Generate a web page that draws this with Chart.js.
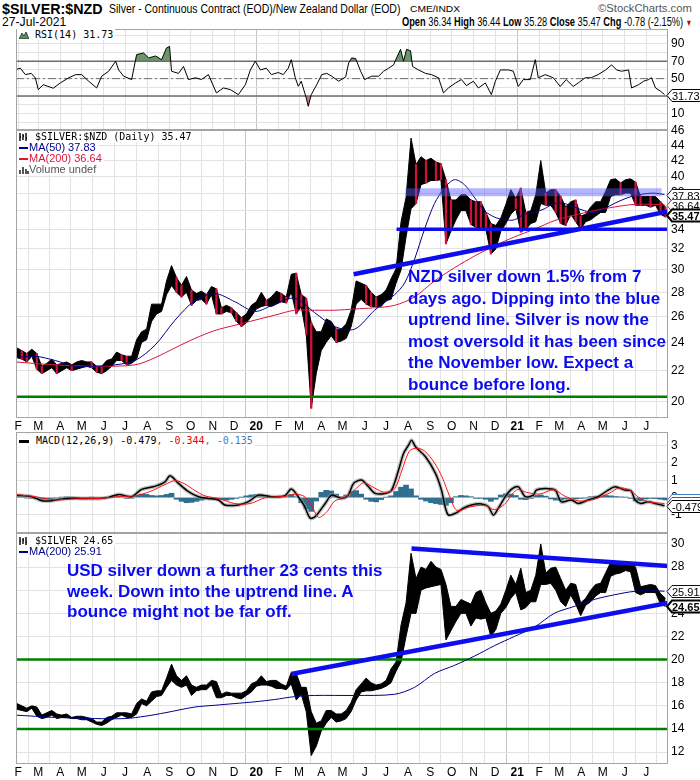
<!DOCTYPE html>
<html>
<head>
<meta charset="utf-8">
<title>$SILVER:$NZD</title>
<script src="https://cdn.jsdelivr.net/npm/chart.js@4.4.1/dist/chart.umd.min.js"></script>
<style>
  body { margin: 0; background: #fff; font-family: 'Liberation Sans', Arial, sans-serif; }
  #page { position: relative; width: 700px; height: 780px; overflow: hidden; }
  canvas { position: absolute; left: 0; }
  .hdr { position: absolute; white-space: nowrap; transform-origin: 0 0; font-family: 'Liberation Sans', Arial, sans-serif; }
  .legend { position: absolute; left: 17px; }
  .legend div { display: table; background: #fff; padding: 0 2px; line-height: 11px; height: 11px; white-space: nowrap; }
  .mono { font: 10px 'DejaVu Sans Mono', monospace; }
  .ma { font: 11px 'Liberation Sans', Arial, sans-serif; }
  .sw { display: inline-block; width: 9px; height: 2px; vertical-align: middle; margin-right: 1px; }
  .note { position: absolute; color: #0b0bf0; font: bold 17px 'Liberation Sans', Arial, sans-serif; white-space: nowrap; }
</style>
</head>
<body>
<div id="page">
  <div class="hdr" data-fit="101" style="left:2px;top:0;font-size:15px;font-weight:bold">$SILVER:$NZD</div>
  <div class="hdr" data-fit="291" style="left:109px;top:2px;font-size:12px">Silver - Continuous Contract (EOD)/New Zealand Dollar (EOD)</div>
  <div class="hdr" data-fit="50" style="left:410px;top:4px;font-size:9px">CME/INDX</div>
  <div class="hdr" data-fit="94" style="left:598px;top:2px;font-size:11px;color:#555">©StockCharts.com</div>
  <div class="hdr" data-fit="64" style="left:2px;top:15px;font-size:12px">27-Jul-2021</div>
  <div class="hdr" data-fit="290" style="left:402px;top:14px;font-size:13px"><b>Open</b> 36.34 <b>High</b> 36.44 <b>Low</b> 35.28 <b>Close</b> 35.47 <b>Chg</b> -0.78 (-2.15%) <span style="color:#c00;font-size:9px">&#9660;</span></div>

  <canvas id="rsiChart" width="700" height="101" style="top:29px"></canvas>
  <canvas id="nzdChart" width="700" height="310" style="top:122px"></canvas>
  <canvas id="macdChart" width="700" height="101" style="top:432px"></canvas>
  <canvas id="usdChart" width="700" height="245" style="top:533px"></canvas>

  <div class="legend" style="top:29px">
    <div class="mono"><svg width="10" height="8" style="vertical-align:-1px"><path d="M0 8 L3 2 L5 5 L7 1 L10 8 Z" fill="#5f8f5f" stroke="#222" stroke-width="0.8"/></svg> RSI(14) 31.73</div>
  </div>
  <div class="legend" style="top:131px">
    <div class="mono"><svg width="10" height="8" style="vertical-align:-1px"><path d="M1 0V8M4 1V7M7 0V8M2 4H1M4 3H5M7 5H8" stroke="#000" stroke-width="1.4"/></svg> $SILVER:$NZD (Daily) 35.47</div>
    <div class="ma" style="color:#00008b"><span class="sw" style="background:#00008b"></span>MA(50) 37.83</div>
    <div class="ma" style="color:#dc143c"><span class="sw" style="background:#dc143c"></span>MA(200) 36.64</div>
    <div class="ma" style="color:#555"><svg width="10" height="8" style="vertical-align:-1px"><path d="M1 8V4M4 8V1M7 8V3M9 8V5" stroke="#555" stroke-width="2"/></svg>Volume undef</div>
  </div>
  <div class="legend" style="top:435px">
    <div class="mono"><span class="sw" style="background:#000;width:10px;height:3px"></span> MACD(12,26,9) -0.479<span style="color:#e00">, -0.344</span><span style="color:#3d7fc0">, -0.135</span></div>
  </div>
  <div class="legend" style="top:535px">
    <div class="mono"><svg width="10" height="8" style="vertical-align:-1px"><path d="M1 0V8M4 1V7M7 0V8M2 4H1M4 3H5M7 5H8" stroke="#000" stroke-width="1.4"/></svg> $SILVER 24.65</div>
    <div class="ma" style="color:#00008b"><span class="sw" style="background:#00008b"></span>MA(200) 25.91</div>
  </div>

  <div class="note" style="left:408px;top:266px;line-height:21.5px">NZD silver down 1.5% from 7<br>days ago. Dipping into the blue<br>uptrend line. Silver is now the<br>most oversold it has been since<br>the November low. Expect a<br>bounce before long.</div>
  <div class="note" style="left:67px;top:561px;line-height:20.5px">USD silver down a further 23 cents this<br>week. Down into the uptrend line. A<br>bounce might not be far off.</div>
</div>

<script>
// ---- values ----
const monthLabels = ['F','M','A','M','J','J','A','S','O','N','D','20','F','M','A','M','J','J','A','S','O','N','D','21','F','M','A','M','J','J'];

// weekly low/high, one entry per week starting Mon 28-Jan-2019
const nzdLow = [22.9,22.8,22.6,23.0,22.1, 21.8,22.0,22.2,21.8,22.0, 22.2,22.0,22.1,22.2,22.3, 22.2,21.9,21.8,22.0,22.3,
  22.7,22.7,22.4,22.5,22.8, 24.0,24.2,25.6,26.2,26.4, 27.8,28.6,28.0,27.6,28.0, 26.9,27.3,27.4,27.0,27.8,
  26.2,26.2,26.4,26.3,25.6, 25.2,25.5,26.0,26.6,26.8, 26.9,26.8,27.0,27.2,27.1, 28.0,26.2,26.8,24.6,19.6,
  21.8,23.4,24.0,24.5,24.0, 24.1,24.3,25.2,27.0,27.4, 27.0,26.8,26.8,26.8,27.3, 27.4,28.8,30.0,33.2,36.2,
  36.8,39.0,39.2,39.5,39.5, 39.6,32.5,33.8,35.0,36.0, 36.0,34.5,34.2,34.0,34.0, 31.5,32.0,33.8,34.6,35.6,
  36.2,33.7,34.0,34.6,34.8, 36.8,36.6,36.6,35.8,34.6, 34.4,35.6,34.8,34.0,34.8, 35.0,35.4,35.8,35.8,37.6,
  37.8,37.8,38.0,38.0,36.6, 36.6,36.6,36.4,36.6,35.6, 35.3];
const nzdHigh = [23.6,23.4,23.2,23.5,23.2, 22.3,22.5,22.8,22.4,22.5, 22.6,22.4,22.6,22.7,22.6, 22.6,22.3,22.3,22.7,22.8,
  23.3,23.1,23.0,23.0,24.2, 24.8,25.0,27.0,27.0,27.0, 29.0,30.4,29.3,28.6,29.4, 28.2,27.9,28.1,27.8,28.5,
  28.3,26.7,26.9,26.7,26.3, 25.9,26.2,26.9,27.2,28.0, 27.3,27.6,28.1,27.9,27.6, 29.6,29.7,27.8,27.5,25.5,
  24.8,24.8,25.8,25.6,25.0, 25.0,25.4,26.5,29.0,28.8, 28.6,28.0,27.6,27.8,28.2, 29.2,30.1,34.8,37.5,45.0,
  41.5,42.5,42.0,42.3,41.8, 41.6,39.6,37.2,37.2,37.8, 37.8,37.2,37.0,37.0,35.8, 34.6,34.4,35.2,36.7,38.4,
  37.4,38.6,35.8,36.0,37.8, 42.0,38.0,38.4,38.4,37.6, 36.4,37.0,37.2,35.4,35.6, 36.4,37.0,37.0,38.2,39.6,
  39.7,39.2,39.6,39.7,39.3, 37.6,37.6,37.6,37.6,37.0, 36.4];
const nzdClose = 35.47;

const ma50NzdWeeks = [0,4,8,12,16,20,24,28,32,36, 40,44,48,52,56,60,64,68,72,76, 78,80,82,84,86,88,90,92,94,96,
  98,100,102,104,106,108,110,112,114,116, 118,120,122,124,126,128,130.1];
const ma50Nzd = [22.9,23.0,22.7,22.3,22.3,22.4,22.7,23.8,25.7,27.3, 27.9,27.2,26.4,27.0,27.5,26.3,25.2,25.0,26.5,27.8,
  28.8,31.0,34.0,36.8,38.6,39.6,39.0,37.5,36.0,35.3, 35.0,35.0,35.6,35.8,36.2,36.8,36.8,36.4,36.0,35.8,
  36.2,36.8,37.3,37.7,37.9,38.0,37.83];
const ma200NzdWeeks = [0,8,16,24,28,32,36,40,44,48, 52,56,60,64,68,72,76,80,84,88, 92,96,100,104,108,112,116,120,124,128, 130.1];
const ma200Nzd = [22.6,22.4,22.3,22.4,22.9,23.6,24.3,24.9,25.3,25.7, 26.1,26.5,26.5,26.5,26.6,26.7,26.9,27.6,29.0,30.2,
  31.3,32.3,33.2,34.0,34.9,35.5,36.0,36.4,36.7,36.7, 36.64];

const nzdTrendWeeks = [67.8, 130.8];
const nzdTrendValues = [29.6, 35.9];
const nzdFloorWeeks = [76.4, 130.8];
const nzdFloor = 34;
const nzdBandWeeks = [78.2, 129.5];
const nzdBand = 38.1;
const nzdSupport = 20.3;

const usdLow = [15.7,15.6,15.5,15.8,15.1, 14.9,15.0,15.2,14.9,15.0, 15.0,14.9,14.9,14.8,14.8, 14.6,14.4,14.3,14.5,14.8,
  15.0,15.2,15.0,15.0,15.3, 16.2,16.0,16.4,16.8,16.9, 17.6,18.2,17.8,17.6,17.8, 16.9,17.3,17.4,17.4,17.8,
  16.7,16.7,16.9,16.9,16.7, 16.6,16.9,17.2,17.7,17.8, 17.8,17.7,17.5,17.5,17.4, 17.9,16.5,17.0,15.5,11.7,
  12.5,13.8,14.5,15.0,14.6, 14.7,14.9,15.5,16.5,17.2, 17.3,17.3,17.4,17.5,17.7, 18.0,19.0,19.8,22.0,24.0,
  24.0,26.0,26.2,26.3,26.4, 26.5,21.7,22.5,23.3,24.0, 24.0,22.9,23.6,23.5,23.6, 22.0,22.6,24.0,24.5,25.3,
  25.8,24.3,24.5,25.0,25.0, 26.5,26.5,26.6,26.0,25.0, 24.6,25.6,24.8,23.8,24.7, 25.0,25.5,25.8,25.8,27.2,
  27.4,27.5,27.7,27.6,25.8, 25.6,25.8,25.8,25.8,24.8, 24.6];
const usdHigh = [16.2,16.0,15.8,16.0,15.9, 15.2,15.4,15.6,15.3,15.2, 15.3,15.0,15.1,15.1,15.0, 14.9,14.6,14.6,15.0,15.1,
  15.4,15.4,15.4,15.3,16.2, 16.6,16.4,17.2,17.3,17.3, 18.4,19.6,18.6,18.2,18.6, 17.8,17.6,17.8,17.8,18.2,
  18.1,17.0,17.2,17.1,17.1, 17.1,17.3,17.9,18.1,18.6, 18.1,18.2,18.2,17.9,17.7, 18.9,18.8,17.6,17.6,15.5,
  14.5,14.7,15.6,15.6,15.3, 15.3,15.6,16.3,17.4,17.9, 18.4,18.0,17.8,17.9,18.2, 19.2,19.8,23.0,24.9,29.2,
  27.0,28.0,27.8,28.5,28.0, 27.8,26.5,24.6,24.6,25.2, 25.0,24.8,25.8,26.0,24.9, 24.0,24.2,24.8,26.0,27.3,
  26.5,27.9,25.8,26.0,27.3, 30.0,27.5,27.9,28.0,27.0, 26.0,26.6,26.5,24.9,25.3, 26.0,26.5,26.6,27.5,28.4,
  28.5,28.3,28.3,28.4,28.0, 26.3,26.4,26.5,26.4,25.7, 25.3];
const usdClose = 24.65;

const ma200UsdWeeks = [0,8,16,22,26,30,36,40,44,48, 52,56,60,68,76,80,84,88,92,96, 100,104,108,112,116,120,124,128,130.1];
const ma200Usd = [15.2,15.0,14.9,14.9,15.1,15.4,15.9,16.05,16.2,16.35, 16.55,16.8,16.9,16.9,17.0,17.6,18.8,19.5,20.3,21.2,
  22.0,22.8,24.0,24.6,25.2,25.6,25.9,25.95,25.91];

const usdUpperWeeks = [79.4, 130.8];
const usdUpperValues = [29.6, 28.1];
const usdLowerWeeks = [55.3, 130.8];
const usdLowerValues = [18.75, 24.9];
const usdSupports = [20, 14];

const rsiWeeks = [0.0,1.0,2.0,3.2,4.0,4.6,5.6,7.6,9.0,10.7, 12.1,13.3,14.7,16.3,17.3,18.7,20.1,20.7,21.7,23.3,
  24.3,25.7,26.7,28.1,29.3,30.3,30.9,31.3,32.7,33.7, 34.7,36.1,37.3,38.7,40.3,41.7,43.1,44.7,46.1,47.1,
  48.1,49.1,50.3,51.3,52.7,53.7,54.7,55.3,56.1,56.7, 57.3,58.3,58.7,59.3,60.4,61.4,62.4,63.4,64.8,66.2,
  66.8,67.4,68.2,69.2,70.0,71.4,72.8,73.8,74.8,75.8, 76.4,77.2,77.8,78.4,79.2,79.6,80.8,82.2,83.4,84.8,
  85.8,86.8,88.2,89.4,90.4,91.8,92.8,94.2,95.4,96.2, 97.2,98.8,99.8,100.8,101.8,103.2,104.2,104.8,106.2,107.8,
  109.2,110.4,111.8,112.8,114.2,115.4,116.8,118.3,119.5,120.5, 121.5,122.9,123.5,124.9,125.9,126.9,127.5,128.3,129.3,130.1];
const rsiValues = [60.3,62,54.6,56,50.8,37.4,43,39,45,51, 54.6,54.6,47,39.3,52.8,58.5,70,60,52.8,48.9,
  77.6,79.5,73.8,76,71.8,85.3,87,58.5,56,64, 48.9,51,49,54.6,33.6,39.3,37.4,31.6,43,60,
  70,60,62,54.6,57,54.6,62,71.8,51,41.2, 47,27.8,18.2,31.6,43,54.6,56,52.8,47,52,
  68,73.8,73,58.5,48.9,52.8,52.8,58.5,62,65.8, 73.8,83.6,70,83.6,82,64,60,56,54.6,51,
  33.6,39.3,45,48.9,42,47,39.3,45,31.6,47, 60,60,58.5,41,48.9,48.9,71.8,51,54.6,51,
  41,48.9,41,45,51,51,54.6,60,65.8,60, 58.5,60,39.3,43,47,48.9,51,39.3,35.6,31.73];
const rsiLevels = [30, 50, 70];

const macdWeeks = [0,3.3,5.3,7.3,10,13.3,16.7,18.7,20.7,23.3, 25.3,28.1,30,31,32.7,34.7,36.7,38.7,40.7,42,
  44.7,46.7,48.7,51.3,54,55.3,56.7,58,59.1,60.1, 62.1,63.4,65.4,66.7,67.8,69.4,70.8,72.1,74.1,75.4,
  76.8,77.8,78.8,79.4,80.2,82.2,84.2,85.4,86.2,86.8, 88.2,89.8,91.4,93.4,94.8,95.8,96.8,98.2,99.4,100.8,
  102.2,103.8,104.4,106.2,108.2,109.4,111.4,112.8,114.8,116.8, 118.8,120.2,122.2,123.4,124.2,125.4,126.8,128.2,130.1];
const macdLine = [0.14,0.05,-0.18,-0.18,-0.05,-0.05,-0.05,0.01,0.18,0.05, 0.47,0.66,0.91,1.26,0.82,0.34,0.05,-0.05,-0.14,-0.43,
  -0.43,-0.24,0.14,0.05,0.10,0.49,0.05,-0.53,-1.19,-1.10, -0.34,0.14,-0.05,0.14,0.82,1.01,0.62,0.24,0.24,0.43,
  1.59,2.55,3.03,3.32,2.94,2.36,1.40,0.43,-0.61,-1.01, -0.91,-0.61,-0.43,-0.37,-0.53,-1.01,-0.61,0.05,0.47,0.62,
  0.05,0.14,0.43,0.53,0.43,-0.24,-0.14,-0.34,-0.14,0.05, 0.43,0.62,0.43,0.39,-0.14,-0.34,-0.24,-0.34,-0.479];
const signalWeeks = [0,4,8,12,17,21,24,27,30,32, 34,36,38,41,44,47,50,54,56,58, 59.5,60.8,62.5,64,66,68,69.8,72,74,76,
  77.5,79,80.5,82,84,85.5,87,88.5,91,94, 96,98,100.5,102.5,105,108,110,113,116,119, 121,123,125,127,130.1];
const signalLine = [0.18,0.05,-0.14,-0.08,-0.05,0.06,0.1,0.35,0.75,0.98, 0.78,0.4,0.1,-0.08,-0.35,-0.35,-0.02,0.07,0.2,0.05,
  -0.55,-1.15,-0.8,-0.2,0.0,0.45,0.85,0.55,0.3,0.5, 1.6,2.7,2.85,2.7,2.0,1.2,0.1,-0.75,-0.55,-0.45,
  -0.7,-0.4,0.45,0.3,0.2,0.45,0.1,-0.2,-0.1,0.25, 0.55,0.45,0.0,-0.25,-0.344];
const macdHist = [0.05,0.04,-0.02,-0.05,-0.08, -0.12,-0.10,-0.06,-0.02,0.02, 0.04,0.02,0.0,-0.02,0.0, 0.01,0.0,-0.02,0.02,0.05,
  0.1,0.06,-0.05,-0.04,0.12, 0.2,0.18,0.12,0.1,0.12, 0.18,0.25,-0.1,-0.22,-0.3, -0.28,-0.22,-0.15,-0.1,-0.06,
  -0.08,-0.12,-0.15,-0.1,-0.05, 0.02,0.1,0.15,0.18,0.14, 0.04,0.0,0.02,0.03,0.05, 0.18,0.05,-0.3,-0.65,-0.8,
  -0.2,0.3,0.42,0.38,0.2, 0.05,0.15,0.35,0.4,0.2, -0.1,-0.22,-0.25,-0.12,0.02, 0.1,0.35,0.6,0.72,0.5,
  0.1,-0.1,-0.2,-0.3,-0.35, -0.4,-0.45,-0.3,0.05,0.12, 0.1,0.05,-0.05,-0.05,-0.1, -0.22,-0.1,0.15,0.22,0.2,
  0.12,-0.1,-0.12,-0.05,0.12, 0.15,0.08,-0.08,-0.15,-0.15, -0.08,-0.05,-0.08,-0.05,-0.02, 0.05,0.08,0.1,0.12,0.1,
  0.06,0.04,0.02,-0.05,-0.2, -0.18,-0.08,-0.05,-0.06,-0.1, -0.135];

// squeeze header text into the narrow widths of the original
document.querySelectorAll('[data-fit]').forEach(el => {
  el.style.transform = 'scaleX(' + (+el.dataset.fit / el.offsetWidth) + ')';
});

// ---- helpers ----
const X_MIN = 0.13, X_MAX = 130.8;
const DAY0 = Date.UTC(2019, 0, 28);
const monthTicks = monthLabels.map((_, k) => (Date.UTC(2019, 1 + k, 1) - DAY0) / (7 * 864e5));
const weekX = i => i + 0.3;
const pts = (xs, ys) => ys.map((y, i) => ({ x: xs[i], y }));
const weekly = ys => ys.map((y, i) => ({ x: weekX(i), y }));
const ranges = (lo, hi) => lo.map((l, i) => ({ x: weekX(i), y: [l, hi[i]] }));
const flat = (xs, v) => [{ x: xs[0], y: v }, { x: xs[1], y: v }];
const FONT = "'Liberation Sans', Arial, sans-serif";

Chart.defaults.font.family = FONT;

function xAxis(showLabels) {
  return {
    type: 'linear', min: X_MIN, max: X_MAX, offset: false,
    afterBuildTicks: s => { s.ticks = monthTicks.map(v => ({ value: v })); },
    afterFit: s => { s.height = showLabels ? 14 : 0; },
    grid: { color: c => (c.index === 11 || c.index === 23) ? '#c4c4c4' : '#e2e2e2', drawTicks: false },
    border: { display: false },
    ticks: {
      display: showLabels, padding: 1, autoSkip: false, maxRotation: 0, color: '#000',
      callback: (v, i) => monthLabels[i],
      font: c => ({ family: FONT, size: 12, weight: (monthLabels[c.index] || '').length > 1 ? 'bold' : 'normal' })
    }
  };
}

function yAxis(min, max, ticks, extra, label) {
  return Object.assign({
    position: 'right', min, max,
    afterBuildTicks: s => { s.ticks = ticks.map(v => ({ value: v })); },
    afterFit: s => { s.width = 32; s.paddingTop = 0; s.paddingBottom = 0; },
    grid: { color: '#e2e2e2', drawTicks: false },
    border: { display: false },
    ticks: { padding: 3, autoSkip: false, color: '#000', font: { family: FONT, size: 12 }, callback: label || (v => v) }
  }, extra);
}

const frame = {
  id: 'frame',
  afterDatasetsDraw(chart) {
    const a = chart.chartArea, ctx = chart.ctx;
    ctx.save();
    ctx.strokeStyle = '#a4a4a4';
    ctx.lineWidth = 1;
    ctx.strokeRect(a.left + 0.5, a.top + 0.5, a.right - a.left - 1, a.bottom - a.top - 1);
    ctx.restore();
  }
};

// value tags on the right axis
function makeTags(items) {
  return {
    id: 'tags',
    afterDraw(chart) {
      const ctx = chart.ctx, x0 = chart.chartArea.right, ys = chart.scales.y;
      items.forEach(t => {
        const y = Math.round(ys.getPixelForValue(t.value)) + 0.5;
        ctx.save();
        ctx.beginPath();
        ctx.moveTo(x0 - 1, y);
        ctx.lineTo(x0 + 4, y - 6);
        ctx.lineTo(x0 + 40, y - 6);
        ctx.lineTo(x0 + 40, y + 6);
        ctx.lineTo(x0 + 4, y + 6);
        ctx.closePath();
        ctx.fillStyle = '#fff';
        ctx.fill();
        ctx.lineWidth = t.bold ? 2 : 1;
        ctx.strokeStyle = t.color;
        ctx.stroke();
        ctx.fillStyle = '#000';
        ctx.font = (t.bold ? 'bold ' : '') + '11px ' + FONT;
        ctx.textBaseline = 'middle';
        ctx.fillText(t.value.toFixed(t.digits || 2), x0 + 4, y + 1);
        ctx.restore();
      });
    }
  };
}

function baseOptions(x, y, padTop) {
  return {
    responsive: false, animation: false, events: [],
    layout: { padding: { left: 16, right: 0, top: padTop || 0, bottom: 0 } },
    plugins: { legend: { display: false }, tooltip: { enabled: false } },
    scales: { x, y }
  };
}

const line = (data, color, width, extra) => Object.assign(
  { type: 'line', data, borderColor: color, borderWidth: width, pointRadius: 0, fill: false, tension: 0 }, extra);

// price cloud: low line + high line filled down to it
const priceBand = (lo, hi, order) => [
  line(weekly(lo), '#000', 1, { order }),
  line(weekly(hi), '#000', 1, { order, fill: '-1', backgroundColor: '#000' })
];

// ---- RSI ----
new Chart(document.getElementById('rsiChart'), {
  type: 'line',
  data: {
    datasets: [
      line(pts(rsiWeeks, rsiValues), '#000', 1, { order: 0 }),
      line(pts(rsiWeeks, rsiValues), 'rgba(0,0,0,0)', 0, { fill: { target: { value: 70 }, above: '#6a976a', below: 'rgba(0,0,0,0)' }, order: 3 }),
      line(pts(rsiWeeks, rsiValues), 'rgba(0,0,0,0)', 0, { fill: { target: { value: 30 }, above: 'rgba(0,0,0,0)', below: '#cf7b7b' }, order: 3 }),
      line(flat([X_MIN, X_MAX], rsiLevels[0]), '#6e6e6e', 1.5, { order: 2 }),
      line(flat([X_MIN, X_MAX], rsiLevels[1]), '#6e6e6e', 1, { borderDash: [8, 3, 2, 3], order: 2 }),
      line(flat([X_MIN, X_MAX], rsiLevels[2]), '#6e6e6e', 1.5, { order: 2 })
    ]
  },
  options: baseOptions(xAxis(false),
    yAxis(-9, 107, [0, 10, 20, 30, 40, 50, 60, 70, 80, 90, 100], {}, v => (v % 20 === 10 ? v : ''))),
  plugins: [frame, makeTags([{ value: rsiValues[rsiValues.length - 1], color: '#000' }])]
});

// ---- NZD price ----
new Chart(document.getElementById('nzdChart'), {
  type: 'bar',
  data: {
    datasets: [
      ...priceBand(nzdLow, nzdHigh, 6),
      {
        data: ranges(nzdLow, nzdHigh), barThickness: 1.6, grouped: false, order: 5,
        backgroundColor: c => {
          const i = c.dataIndex;
          return i > 0 && nzdLow[i] + nzdHigh[i] < nzdLow[i - 1] + nzdHigh[i - 1] ? '#d2103c' : 'rgba(0,0,0,0)';
        }
      },
      line(flat([X_MIN, X_MAX], nzdSupport), '#008000', 2.5, { order: 4 }),
      line(pts(ma200NzdWeeks, ma200Nzd), '#dc143c', 1, { tension: 0.3, order: 3 }),
      line(pts(ma50NzdWeeks, ma50Nzd), '#00008b', 1, { tension: 0.3, order: 2 }),
      line(flat(nzdBandWeeks, nzdBand), 'rgba(90,90,255,0.45)', 8, { order: 1 }),
      line(flat(nzdFloorWeeks, nzdFloor), '#0d0dee', 3.5, { order: 0 }),
      line(pts(nzdTrendWeeks, nzdTrendValues), '#0d0dee', 4.5, { order: 0 })
    ]
  },
  options: baseOptions(xAxis(true),
    yAxis(19.02, 46.14, [20, 22, 24, 26, 28, 30, 32, 34, 36, 38, 40, 42, 44, 46], { type: 'logarithmic' }), 8),
  plugins: [frame, makeTags([
    { value: ma50Nzd[ma50Nzd.length - 1], color: '#00008b' },
    { value: ma200Nzd[ma200Nzd.length - 1], color: '#dc143c' },
    { value: nzdClose, color: '#000', bold: true }
  ])]
});

// ---- MACD ----
new Chart(document.getElementById('macdChart'), {
  type: 'bar',
  data: {
    datasets: [
      { data: weekly(macdHist), backgroundColor: '#2f6e8e', barThickness: 5, grouped: false, order: 4 },
      line(pts(macdWeeks, macdLine), 'rgba(150,150,150,0.6)', 4, { tension: 0.3, order: 3 }),
      line(pts(macdWeeks, macdLine), '#000', 1.5, { tension: 0.3, order: 2 }),
      line(pts(signalWeeks, signalLine), '#ff1010', 1, { tension: 0.3, order: 1 })
    ]
  },
  options: baseOptions(xAxis(false), yAxis(-2.05, 3.79, [-1, 0, 1, 2, 3])),
  plugins: [frame, makeTags([
    { value: macdHist[macdHist.length - 1], color: '#3d7fc0', digits: 3 },
    { value: signalLine[signalLine.length - 1], color: '#ff1010', digits: 3 },
    { value: macdLine[macdLine.length - 1], color: '#000', digits: 3 }
  ])]
});

// ---- USD price ----
new Chart(document.getElementById('usdChart'), {
  type: 'bar',
  data: {
    datasets: [
      ...priceBand(usdLow, usdHigh, 5),
      line(flat([X_MIN, X_MAX], usdSupports[0]), '#008000', 2.5, { order: 4 }),
      line(flat([X_MIN, X_MAX], usdSupports[1]), '#008000', 2.5, { order: 4 }),
      line(pts(ma200UsdWeeks, ma200Usd), '#00008b', 1, { tension: 0.3, order: 2 }),
      line(pts(usdUpperWeeks, usdUpperValues), '#0d0dee', 4.5, { order: 0 }),
      line(pts(usdLowerWeeks, usdLowerValues), '#0d0dee', 4.5, { order: 0 })
    ]
  },
  options: baseOptions(xAxis(true), yAxis(10.97, 30.95, [12, 14, 16, 18, 20, 22, 24, 26, 28, 30])),
  plugins: [frame, makeTags([
    { value: ma200Usd[ma200Usd.length - 1], color: '#00008b' },
    { value: usdClose, color: '#000', bold: true }
  ])]
});
</script>
</body>
</html>
